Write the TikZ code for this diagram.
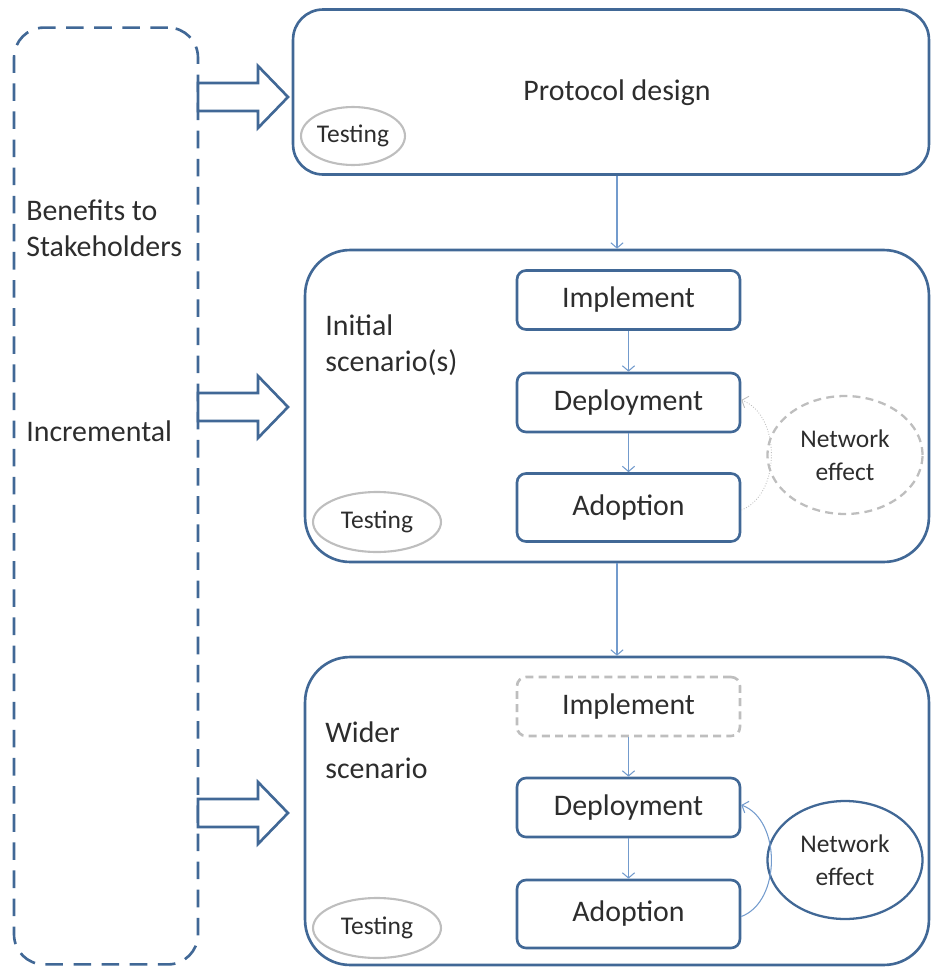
\documentclass[tikz,border=0pt]{standalone}
\usepackage{fontspec}
\setmainfont{Carlito}
\usetikzlibrary{arrows.meta,shapes.geometric}

\definecolor{frame}{RGB}{65,104,150}
\definecolor{link}{RGB}{115,155,205}
\definecolor{ghost}{RGB}{190,190,190}
\definecolor{ink}{RGB}{45,45,45}

\tikzset{
  stage/.style={draw=frame,line width=1.5pt,rounded corners=0.9cm,inner sep=0pt},
  task/.style={draw=frame,line width=1.5pt,rounded corners=0.18cm,minimum width=4.46cm,
    minimum height=1.18cm,text=ink,font=\fontsize{17}{20}\selectfont},
  conn/.style={draw=link,line width=0.6pt,-{Straight Barb[length=3pt,width=7pt]}},
  testing/.style={ellipse,draw=ghost,line width=1.2pt,inner sep=0pt,minimum height=1.2cm,
    minimum width=2.56cm,text=ink,font=\fontsize{14.5}{17}\selectfont},
  neteff/.style={ellipse,line width=1.3pt,inner sep=0pt,minimum width=3.1cm,minimum height=2.36cm,
    text=ink,align=center,font=\fontsize{14.5}{19}\selectfont},
  fat/.style={draw=frame,line width=1.5pt,fill=white},
  lbl/.style={anchor=west,inner sep=0pt,align=left,text=ink,font=\fontsize{17}{20.5}\selectfont}
}

\begin{document}
\begin{tikzpicture}[x=0.02cm,y=-0.02cm]
\useasboundingbox (0,0) rectangle (931,967);

% left column
\node[draw=frame,line width=1.5pt,dash pattern=on 10pt off 6pt,rounded corners=0.6cm,
  minimum width=3.68cm,minimum height=18.74cm] (benefit) at (106,496) {};
\node[lbl] (stake) at (26,228) {Benefits to\\Stakeholders};
\node[lbl] (incr) at (26,431) {Incremental};

% the three stages
\node[stage,rounded corners=0.6cm,minimum width=12.72cm,minimum height=3.3cm] (design) at (611,92) {};
\node[stage,minimum width=12.48cm,minimum height=6.24cm] (initial) at (617,406) {};
\node[stage,minimum width=12.48cm,minimum height=6.16cm] (wider) at (617,811) {};

\node[text=ink,font=\fontsize{17}{20}\selectfont] (pd) at (617,93) {Protocol design};
\node[lbl] (ini) at (325,345) {Initial\\scenario(s)};
\node[lbl] (wid) at (325,750) {Wider\\scenario};

\node[testing,minimum width=2.08cm,minimum height=1.16cm] (test1) at (353,136) {Testing};
\node[testing] (test2) at (377,522) {Testing};
\node[testing] (test3) at (377,928) {Testing};

% block arrows
\foreach \y in {97,407,813}
  \draw[fat] (198,\y-14) -- (258,\y-14) -- (258,\y-31) -- (288,\y)
    -- (258,\y+31) -- (258,\y+14) -- (198,\y+14) -- cycle;

% initial scenario(s)
\node[task] (imp1) at (628.5,300) {Implement};
\node[task] (dep1) at (628.5,402.5) {Deployment};
\node[task,minimum height=1.36cm] (ado1) at (628.5,507.5) {Adoption};
\node[neteff,draw=ghost,dashed,dash pattern=on 4.5pt off 3pt] (net1) at (845,455) {Network\\effect};

% wider scenario
\node[task,draw=ghost,dash pattern=on 4.5pt off 3pt] (imp2) at (628.5,706.5) {Implement};
\node[task] (dep2) at (628.5,807.5) {Deployment};
\node[task,minimum height=1.36cm] (ado2) at (628.5,914) {Adoption};
\node[neteff,draw=frame] (net2) at (845,860) {Network\\effect};

% connectors
\draw[conn] (initial.north |- design.south) -- (initial.north);
\draw[conn] (wider.north |- initial.south) -- (wider.north);
\draw[conn] (imp1) -- (dep1);
\draw[conn] (dep1) -- (ado1);
\draw[conn] (imp2) -- (dep2);
\draw[conn] (dep2) -- (ado2);

\draw[conn,draw=ghost,line width=0.5pt,densely dotted] ([yshift=-0.05cm]ado1.east)
  .. controls +(40,-15) and +(40,15) .. ([yshift=0.05cm]dep1.east);
\draw[conn] ([yshift=-0.05cm]ado2.east)
  .. controls +(40,-15) and +(40,15) .. ([yshift=0.05cm]dep2.east);
\end{tikzpicture}
\end{document}
